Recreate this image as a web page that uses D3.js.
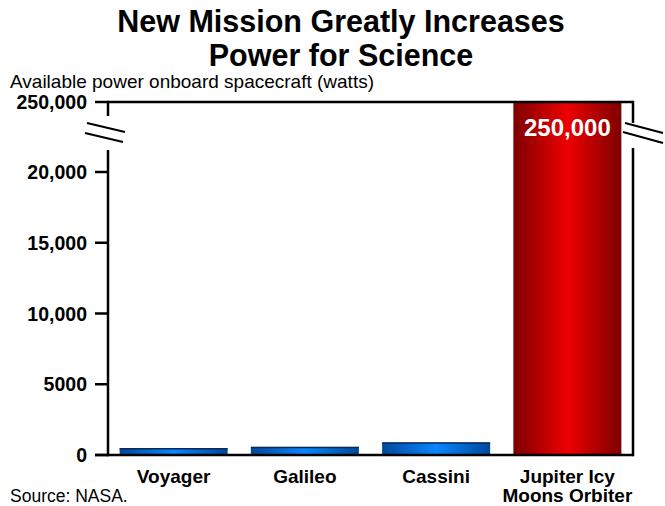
<!DOCTYPE html>
<html><head><meta charset="utf-8">
<script src="https://cdn.jsdelivr.net/npm/d3@7/dist/d3.min.js"></script>
<style>body{margin:0;background:#fff}svg{display:block;font-family:"Liberation Sans",Arial,sans-serif}</style>
</head><body><svg id="c" width="665" height="506"></svg>
<script>
const categories = ["Voyager", "Galileo", "Cassini", "Jupiter Icy\nMoons Orbiter"];
const values = [470, 570, 880, 250000];
const tickValues = [0, 5000, 10000, 15000, 20000, 250000];
const tickLabels = ["0", "5000", "10,000", "15,000", "20,000", "250,000"];
const titleLines = ["New Mission Greatly Increases", "Power for Science"];
const yTitle = "Available power onboard spacecraft (watts)";
const source = "Source: NASA.";

const svg = d3.select("#c");
const L = 108, R = 633, T = 102, B = 455;
const x = d3.scaleBand().domain(categories).range([L, R]).paddingInner(0.177).paddingOuter(0.0885);
const y = d3.scaleLinear().domain([0, 20000, 250000]).range([B, 172, T]);

const defs = svg.append("defs");
function grad(id, edge, mid) {
  const g = defs.append("linearGradient").attr("id", id).attr("x1", "0").attr("x2", "1").attr("y1", "0").attr("y2", "0");
  [[0, edge], [0.5, mid], [1, edge]].forEach(([o, c]) => g.append("stop").attr("offset", o).attr("stop-color", c));
}
grad("gb", "#00489a", "#0a86ff");
grad("gr", "#7e0000", "#ec0000");

// title
svg.append("g").selectAll("text").data(titleLines).join("text")
  .attr("x", 341).attr("y", (d, i) => 32 + i * 34).attr("text-anchor", "middle")
  .attr("font-size", 30.5).attr("font-weight", "bold").text(d => d);
svg.append("text").attr("x", 10).attr("y", 88).attr("font-size", 19).text(yTitle);
svg.append("text").attr("x", 10).attr("y", 502).attr("font-size", 17.5).text(source);

// bars
const last = categories.length - 1;
svg.append("g").selectAll("rect").data(values).join("rect")
  .attr("x", (d, i) => x(categories[i])).attr("width", x.bandwidth())
  .attr("y", d => y(d)).attr("height", d => B - y(d))
  .attr("fill", (d, i) => i === last ? "url(#gr)" : "url(#gb)");
svg.append("g").selectAll("line").data(values.slice(0, last)).join("line")
  .attr("x1", (d, i) => x(categories[i])).attr("x2", (d, i) => x(categories[i]) + x.bandwidth())
  .attr("y1", d => y(d) + 0.5).attr("y2", d => y(d) + 0.5)
  .attr("stroke", "#0a2a55").attr("stroke-width", 1.5);

// value label
svg.append("text").attr("x", x(categories[last]) + x.bandwidth() / 2).attr("y", y(values[last]) + 34)
  .attr("text-anchor", "middle").attr("font-size", 24).attr("font-weight", "bold").attr("fill", "#fff")
  .text(d3.format(",")(values[last]));

// y axis
const ax = svg.append("g");
ax.selectAll("line.t").data(tickValues).join("line").attr("class", "t")
  .attr("x1", 95).attr("x2", L).attr("y1", d => y(d)).attr("y2", d => y(d))
  .attr("stroke", "#000").attr("stroke-width", 2.5);
ax.selectAll("text").data(tickValues).join("text")
  .attr("x", 87).attr("y", d => y(d)).attr("dy", "0.36em").attr("text-anchor", "end")
  .attr("font-size", 19.5).attr("font-weight", "bold").text((d, i) => tickLabels[i]);

const st = {stroke: "#000", "stroke-width": 2.5, fill: "none"};
function seg(x1, y1, x2, y2, w) {
  const l = svg.append("line").attr("x1", x1).attr("y1", y1).attr("x2", x2).attr("y2", y2)
    .attr("stroke", "#000").attr("stroke-width", w || 2.5);
  return l;
}
// frame: left axis with break
seg(L, T - 1.2, L, 116);
seg(L, 150, L, B + 1.2);
// top
seg(L, T, R, T);
// right with break
seg(R, T - 1.2, R, 123);
seg(R, 148, R, B + 1.2);
// bottom
seg(95, B, R, B);
// break slashes
seg(87, 123, 125, 132, 2);
seg(85, 133, 123, 142, 2);
seg(625, 123, 663, 133, 2);
seg(623, 132, 663, 143, 2);

// x labels
const xl = svg.append("g");
categories.forEach(c => {
  const lines = c.split("\n");
  xl.append("text").attr("text-anchor", "middle").attr("font-size", 19).attr("font-weight", "bold")
    .selectAll("tspan").data(lines).join("tspan")
    .attr("x", x(c) + x.bandwidth() / 2).attr("y", (d, i) => 483 + i * 19).text(d => d);
});
</script></body></html>
